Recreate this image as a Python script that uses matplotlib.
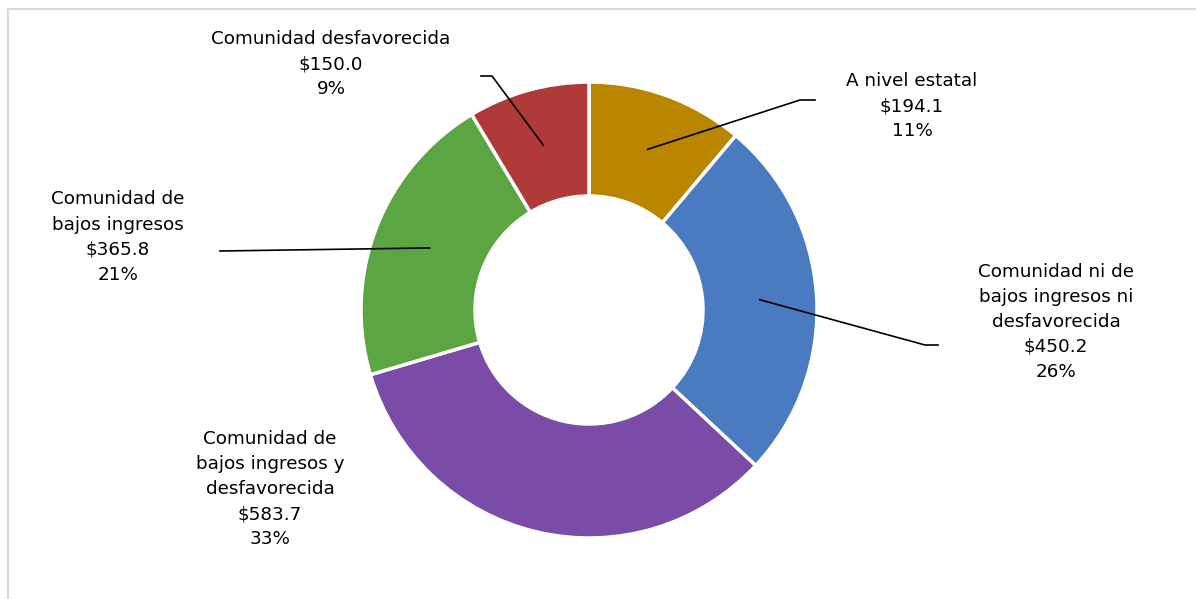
import numpy as np
from matplotlib import pyplot as plt
from matplotlib.lines import Line2D

# data
categories = ['A nivel estatal',
              'Comunidad ni de\nbajos ingresos ni\ndesfavorecida',
              'Comunidad de\nbajos ingresos y\ndesfavorecida',
              'Comunidad de\nbajos ingresos',
              'Comunidad desfavorecida']
values = [194.1, 450.2, 583.7, 365.8, 150.0]
colors = ['#BA8600', '#4A7BC0', '#7B4BA8', '#5BA642', '#B03A3A']

# layout (pixel space, y measured from top)
W, H = 1196, 599
center = (589, 310)
r_out = 228
ring = 0.5
label_pos = [(912, 106), (1056, 322), (270, 489), (118, 237), (331, 64)]
# elbow of leader line and end of short horizontal tick (None -> no leader)
elbows = [((800, 100), (815, 100)),
          ((925, 345), (938, 345)),
          None,
          ((220, 251), (220, 251)),
          ((492, 76), (481, 76))]

fig = plt.figure(figsize=(W / 100, H / 100), dpi=100)
ax = fig.add_axes([0, 0, 1, 1])

cx, cy = center[0], H - center[1]
wedges, _ = ax.pie(values, colors=colors, startangle=90, counterclock=False,
                   center=(cx, cy), radius=r_out, frame=True,
                   wedgeprops=dict(width=r_out * ring, edgecolor='white', linewidth=2.5))
ax.set_xlim(0, W)
ax.set_ylim(0, H)
ax.set_aspect('equal')
ax.axis('off')

total = sum(values)
r_mid = r_out * (1 - ring / 2)
for w, name, v, lp, el in zip(wedges, categories, values, label_pos, elbows):
    txt = '%s\n$%.1f\n%d%%' % (name, v, round(100 * v / total))
    ax.text(lp[0], H - lp[1], txt, ha='center', va='center', fontsize=13.2,
            linespacing=1.5, family='DejaVu Sans', color='black')
    if el is None:
        continue
    ang = np.deg2rad((w.theta1 + w.theta2) / 2)
    x0, y0 = cx + r_mid * np.cos(ang), cy + r_mid * np.sin(ang)
    (ex, ey), (tx, ty) = el
    ax.plot([x0, ex, tx], [y0, H - ey, H - ty], color='black', lw=1.2)

# light frame (top and left edges visible)
fig.add_artist(Line2D([8 / W, 1], [1 - 9 / H, 1 - 9 / H], color='#D9D9D9', lw=1.5,
                      transform=fig.transFigure))
fig.add_artist(Line2D([8 / W, 8 / W], [0, 1 - 9 / H], color='#D9D9D9', lw=1.5,
                      transform=fig.transFigure))

fig.savefig('out.png', dpi=100)
